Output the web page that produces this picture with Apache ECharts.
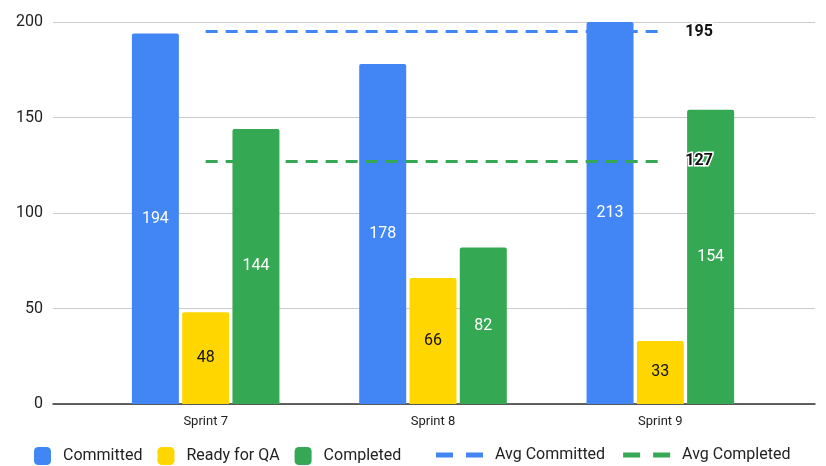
<!DOCTYPE html>
<html><head><meta charset="utf-8">
<script src="https://cdn.jsdelivr.net/npm/echarts@6/dist/echarts.min.js"></script>
<style>html,body{margin:0;padding:0;background:#fff}#c{width:826px;height:466px}</style>
</head><body><div id="c"></div>
<script>
const categories = ['Sprint 7', 'Sprint 8', 'Sprint 9'];
const committed = [194, 178, 213];
const readyForQA = [48, 66, 33];
const completed = [144, 82, 154];
const avgCommitted = [195, 195, 195];
const avgCompleted = [127, 127, 127];
const yTicks = [0, 50, 100, 150, 200];

const FONT = 'Roboto';
const BLUE = '#4285F4', YELLOW = '#FFD600', GREEN = '#34A853';
const DASH_ICON = 'path://M0,0h17v5h-17zM30,0h17v5h-17z';

function barLabel(color) {
  return { show: true, position: 'inside', color: color, fontFamily: FONT, fontSize: 16 };
}
function endLbl() {
  return { show: true, distance: 25, formatter: p => String(p.value), color: '#111', fontFamily: FONT,
    fontWeight: 'bold', fontSize: 16, textBorderColor: '#fff', textBorderWidth: 3 };
}

const chart = echarts.init(document.getElementById('c'));
chart.setOption({
  animation: false,
  textStyle: { fontFamily: FONT },
  grid: [
    { left: 53, right: 11, top: 22, bottom: 62 },
    { left: 92, right: 52, top: 22, bottom: 62 }
  ],
  xAxis: [
    { gridIndex: 0, type: 'value', min: 0, max: 1, axisLabel: { show: false }, axisTick: { show: false },
      splitLine: { show: false }, axisLine: { show: true, lineStyle: { color: '#333', width: 1.5 } } },
    { gridIndex: 1, type: 'category', data: categories, axisLine: { show: false }, axisTick: { show: false },
      axisLabel: { color: '#222', fontSize: 13, margin: 11, fontFamily: FONT } }
  ],
  yAxis: [
    { gridIndex: 0, type: 'value', min: yTicks[0], max: yTicks[yTicks.length - 1], interval: 50,
      axisLine: { show: false }, axisTick: { show: false },
      axisLabel: { color: '#222', fontSize: 16, margin: 10, fontFamily: FONT },
      splitLine: { lineStyle: { color: '#ccc', width: 1 } } },
    { gridIndex: 1, type: 'value', min: 0, max: 200, show: false, splitLine: { show: false } }
  ],
  legend: [
    { data: ['Committed', 'Ready for QA', 'Completed'], left: 34, top: 447, padding: 0, icon: 'roundRect',
      itemWidth: 17, itemHeight: 18, itemGap: 15,
      textStyle: { fontSize: 16, color: '#222', fontFamily: FONT, padding: [0, 0, 0, 7] } },
    { data: [
        { name: 'Avg Committed', icon: DASH_ICON, itemStyle: { color: BLUE } },
        { name: 'Avg Completed', icon: DASH_ICON, itemStyle: { color: GREEN } }
      ], left: 436, top: 447, padding: 0, itemWidth: 47, itemHeight: 5, itemGap: 18,
      textStyle: { fontSize: 16, color: '#222', fontFamily: FONT, padding: [0, 0, 0, 7] } }
  ],
  series: [
    { name: 'Committed', type: 'bar', xAxisIndex: 1, yAxisIndex: 1, data: committed, barWidth: 47, barGap: '7%',
      itemStyle: { color: BLUE, borderRadius: [2, 2, 0, 0] }, label: barLabel('#fff'), z: 2 },
    { name: 'Ready for QA', type: 'bar', xAxisIndex: 1, yAxisIndex: 1, data: readyForQA, barWidth: 47, barGap: '7%',
      itemStyle: { color: YELLOW, borderRadius: [2, 2, 0, 0] }, label: barLabel('#111'), z: 2 },
    { name: 'Completed', type: 'bar', xAxisIndex: 1, yAxisIndex: 1, data: completed, barWidth: 47, barGap: '7%',
      itemStyle: { color: GREEN, borderRadius: [2, 2, 0, 0] }, label: barLabel('#fff'), z: 2 },
    { name: 'Avg Committed', type: 'line', xAxisIndex: 1, yAxisIndex: 1, data: avgCommitted, symbol: 'none',
      lineStyle: { color: BLUE, width: 3, type: [12, 8] }, itemStyle: { color: BLUE }, z: 4, endLabel: endLbl() },
    { name: 'Avg Completed', type: 'line', xAxisIndex: 1, yAxisIndex: 1, data: avgCompleted, symbol: 'none',
      lineStyle: { color: GREEN, width: 3, type: [12, 8] }, itemStyle: { color: GREEN }, z: 4, endLabel: endLbl() }
  ]
});
</script></body></html>
